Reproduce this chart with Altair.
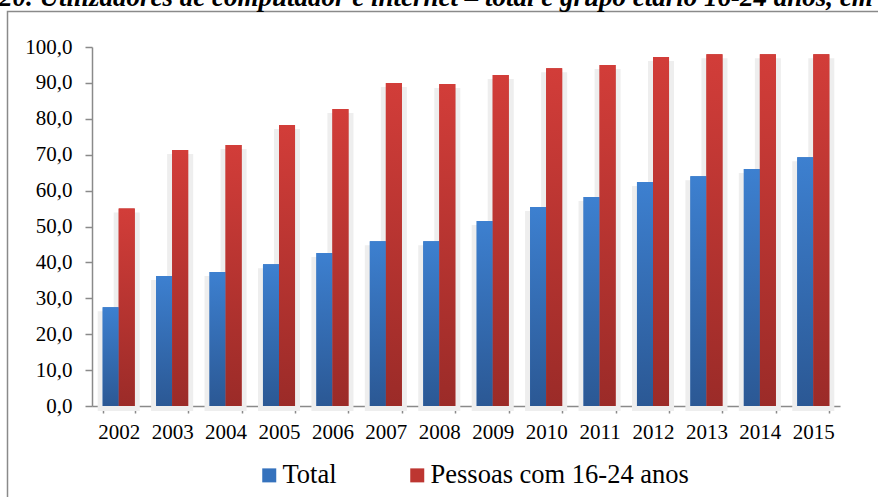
import altair as alt
import pandas as pd

# Percentage of computer and internet users, 2002-2015
anos = ["2002", "2003", "2004", "2005", "2006", "2007", "2008",
        "2009", "2010", "2011", "2012", "2013", "2014", "2015"]
total = [27.5, 36.2, 37.3, 39.5, 42.6, 45.9, 45.9,
         51.5, 55.4, 58.2, 62.4, 64.0, 66.0, 69.3]
jovens = [55.0, 71.3, 72.7, 78.3, 82.7, 90.0, 89.7,
          92.2, 94.1, 95.0, 97.2, 98.0, 98.0, 98.0]
series = ["Total", "Pessoas com 16-24 anos"]
titulo = ("20. Utilizadores de computador e internet \u2013 total e grupo "
          "etário 16-24 anos, em %")

rows = []
for a, t, j in zip(anos, total, jovens):
    rows.append({"ano": a, "serie": series[0], "valor": t})
    rows.append({"ano": a, "serie": series[1], "valor": j})
df = pd.DataFrame(rows)

FONT = "'Liberation Serif', 'Times New Roman', Times, serif"
AXIS_GREY = "#8a8a8a"
PLOT_W, PLOT_H = 748, 359
PAD = {"left": 92, "top": 47, "right": 878 - 92 - PLOT_W, "bottom": 497 - 47 - PLOT_H}

x_enc = alt.X("ano:N", sort=anos,
              scale=alt.Scale(paddingInner=0.4, paddingOuter=0.2),
              axis=alt.Axis(title=None, labelAngle=0, labelFontSize=21,
                            labelFont=FONT, labelColor="black",
                            tickBand="extent", tickSize=7, labelPadding=8,
                            domainColor=AXIS_GREY, tickColor=AXIS_GREY,
                            domainWidth=1.5, tickWidth=1.5))
xoff = alt.XOffset("serie:N", sort=series,
                   scale=alt.Scale(domain=series, paddingInner=0, paddingOuter=0))
y_axis = alt.Axis(title=None, values=list(range(0, 101, 10)),
                  labelExpr="replace(format(datum.value, '.1f'), '.', ',')",
                  labelFontSize=21, labelFont=FONT, labelColor="black",
                  tickSize=7, labelPadding=13, grid=False,
                  domainColor=AXIS_GREY, tickColor=AXIS_GREY,
                  domainWidth=1.5, tickWidth=1.5)
y_scale = alt.Scale(domain=[0, 100], nice=False)

base = alt.Chart(df)

# soft grey backdrop behind each bar
sombra = base.transform_calculate(
    sombra="datum.valor - 2.5"
).mark_bar(color="#eeeeee", stroke="#eeeeee", strokeWidth=10).encode(
    x=x_enc, xOffset=xoff,
    y=alt.Y("sombra:Q", scale=y_scale, axis=y_axis),
)

# flat-coloured bars that carry the legend
legenda = base.mark_bar().encode(
    x=x_enc, xOffset=xoff,
    y=alt.Y("valor:Q", scale=y_scale, axis=y_axis),
    color=alt.Color("serie:N", sort=series,
                    scale=alt.Scale(domain=series, range=["#3572bd", "#bd3631"]),
                    legend=alt.Legend(title=None, orient="none", direction="horizontal",
                                      legendX=164, legendY=415,
                                      symbolType="square", symbolSize=196,
                                      symbolStrokeWidth=0,
                                      labelFont=FONT, labelFontSize=26.5,
                                      labelColor="black", labelOffset=0,
                                      columnPadding=67, labelLimit=400)),
)

grad_azul = alt.Gradient(gradient="linear", x1=0, y1=0, x2=0, y2=1,
                         stops=[alt.GradientStop(color="#3d80d0", offset=0),
                                alt.GradientStop(color="#2b5894", offset=1)])
grad_verm = alt.Gradient(gradient="linear", x1=0, y1=0, x2=0, y2=1,
                         stops=[alt.GradientStop(color="#d23d39", offset=0),
                                alt.GradientStop(color="#9b2b28", offset=1)])

barras = base.mark_bar().encode(
    x=x_enc, xOffset=xoff,
    y=alt.Y("valor:Q", scale=y_scale, axis=y_axis),
    fill=alt.condition(alt.datum.serie == series[0],
                       alt.value(grad_azul), alt.value(grad_verm)),
)

one = alt.Chart(pd.DataFrame({"k": [0]}))

moldura = one.mark_rect(fill=None, stroke=AXIS_GREY, strokeWidth=1.5).encode(
    x=alt.value(-84.5), x2=alt.value(830),
    y=alt.value(-35.5), y2=alt.value(480),
)

cabecalho = one.mark_text(align="left", baseline="alphabetic", font=FONT,
                          fontSize=27, fontWeight="bold", fontStyle="italic",
                          color="black").encode(
    x=alt.value(-93), y=alt.value(-41), text=alt.value(titulo),
)

chart = alt.layer(moldura, cabecalho, sombra, legenda, barras).properties(
    width=PLOT_W, height=PLOT_H,
    autosize=alt.AutoSizeParams(type="none"),
    padding=PAD,
    background="white",
).configure_view(stroke=None)

chart.save("out.html", embed_options={"renderer": "svg", "actions": False})
